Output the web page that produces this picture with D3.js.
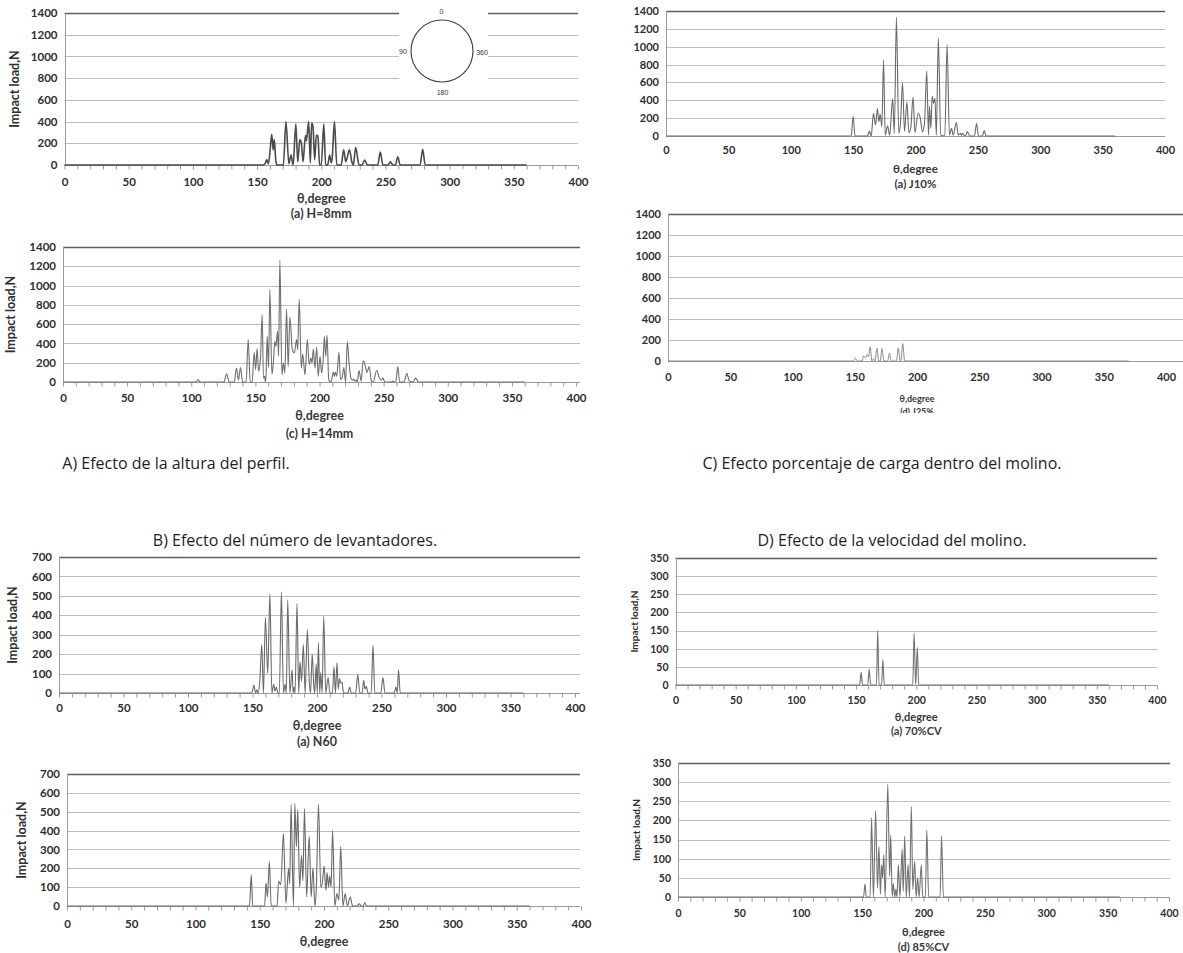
<!DOCTYPE html>
<html>
<head>
<meta charset="utf-8">
<script src="https://cdn.jsdelivr.net/npm/d3@7"></script>
<style>
  body { margin: 0; background: #fff; }
  svg { display: block; }
</style>
</head>
<body>
<svg id="fig" width="1183" height="953"></svg>
<script>
// ---------- Impact load vs. angular position (θ) for each case ----------

// (a) H=8mm
const thetaH8 = [0,154.5,156.2,157.5,158.8,160.1,161.4,162.6,163.4,164.7,165.8,170.5,172.5,174.8,176.5,178.1,180.2,181.7,183.3,184.5,185.8,187.7,188.4,190.2,191.5,192.5,193.5,194.9,196.2,197.4,198.7,200,202,203.4,205,206.5,207.8,208.5,210.3,212.1,215.5,217.5,219,220,222,224,225,226.8,229.5,231.8,233.8,236,244,246,248,252,253.8,255.8,257.8,259.6,261.5,277,279,281,360];
const loadH8  = [0,0,11,50,11,123,282,139,235,30,0,0,400,11,91,0,378,30,235,203,30,271,223,400,20,387,360,50,277,265,0,0,378,0,0,91,20,60,400,0,0,140,30,60,140,20,0,160,0,0,45,0,0,120,0,0,30,0,0,75,0,0,145,0,0];

// (c) H=14mm
const thetaH14 = [0,103.5,105.3,107,125.5,127.5,129.5,133.5,135.3,136.8,138.4,140,142.8,144.4,146,147.5,149.1,150.2,151.4,152.5,154,155.3,156.3,157.2,157.8,158.3,159.2,160.3,161.3,162.9,164,165.2,166,167.3,168.1,169.1,170.7,171.8,173,174.3,175.6,176.9,178.8,180.3,182.2,183,184.2,185.8,186.9,188.7,190.5,192,193.3,194.2,195.2,196.5,197.8,199,200.4,201.6,202.7,203.8,204.8,205.9,207.2,209,210.8,211.6,212.4,213.4,215.2,216.3,217.5,219,220.3,221.7,223,224.5,225.5,226.5,227.5,228.5,229.5,230.8,232.5,234,235.5,237,238.8,240.5,242,244.5,246.5,248,249.5,251,256,257,258,259.5,261,262.5,266,268,270,273,275,277,360];
const loadH14  = [0,0,24,0,0,86,0,0,145,20,149,0,0,439,0,0,308,130,346,110,250,698,40,59,0,59,474,150,958,80,200,422,370,525,266,1262,76,197,93,757,162,674,335,300,439,335,861,145,290,76,439,180,249,200,342,145,363,59,266,93,200,474,266,484,24,0,104,60,104,60,308,30,40,150,0,420,200,40,20,30,10,20,0,120,10,220,180,100,160,10,0,120,50,20,40,0,0,10,0,0,160,0,0,90,10,0,40,0,0];

// (a) J10%
const thetaJ10 = [0,148.5,150,151.5,161.5,163,164.5,166.3,168,169.5,170.6,171.7,173,174.4,175.7,177.6,179.3,181.7,183,184.7,186.6,188,189.6,191.2,193.1,194.7,196.3,198,199.6,202,203.7,205.6,207.2,209,210.4,211.2,212.3,213.4,214.5,215.6,216.7,218.3,220.2,223.5,225.3,227.2,228.9,230.2,232.7,234.3,235.9,236.8,237.5,238.9,240,241.6,243.5,247.3,248.9,250.5,253.6,255.1,256.5,360];
const loadJ10  = [0,0,224,0,0,56,0,254,123,310,160,246,105,851,10,112,10,418,30,1329,30,150,597,50,381,37,105,437,37,254,209,49,142,728,10,336,86,448,366,422,10,1101,10,0,1023,10,86,10,150,10,30,10,30,10,0,49,0,0,142,0,0,60,0,0];

// (d) J25%
const thetaJ25 = [0,149,150.6,152,156,157,158.5,160,161,162.4,163.8,165,166.2,167.8,169.3,170.4,171.9,173.4,176.4,177.9,179.3,183.5,185,186.5,187,188.6,190,370];
const loadJ25  = [0,0,25,0,0,50,30,60,40,135,0,20,0,120,0,0,118,0,0,75,0,0,125,0,0,165,0,0];

// (a) N60
const thetaN60 = [0,149.5,151,152.5,153.4,154.5,155.7,157.2,158.5,160,161.8,163.5,165,166.4,167.5,168.4,169.8,170.8,172.4,174,175.3,176.2,177.3,179,180.7,181.5,182.2,183,184.5,185.8,186.8,188,189.4,190.8,192.5,194,195,196.3,197.5,198.2,199.4,200.2,201.1,202.1,202.9,204,205.2,206.8,208.6,210,212,213.2,214.3,215.5,216.5,217.5,218.5,219.5,220.5,224,225.3,226.6,230,231.6,233.2,235,236.2,237.2,238.2,239.5,242,243.4,244.8,249.5,251.1,252.7,259.8,261.2,262.2,263.2,264.5,360];
const loadN60  = [0,0,40,0,17,0,65,250,0,390,100,510,0,45,10,30,0,0,520,0,45,0,480,0,120,0,30,0,460,0,160,60,250,0,325,60,0,200,40,0,150,0,260,0,105,0,395,0,80,0,0,135,0,155,20,75,50,55,0,0,30,0,0,95,0,0,65,20,35,0,0,245,0,0,80,0,0,30,0,120,0,0];

// second lifter case
const thetaN2 = [0,142,143.4,144.5,153.8,154.9,156,157.5,158.9,163.5,164.7,166.4,168.4,170.4,172.4,173.3,174.4,176.2,177.3,178.5,179.6,181,182.5,183.6,184.8,186.5,188.5,190,191.4,192.9,194,195.7,197.5,198.6,200,201.5,202.4,203.5,204.4,205.5,206.7,208.4,210.1,211.6,213,214.7,216.5,218.2,220.5,222.2,226,227.4,229,230.5,231.7,233.2,360];
const loadN2  = [0,0,165,0,0,122,48,234,0,0,131,114,384,14,200,117,540,0,545,315,510,100,269,134,517,48,371,48,203,0,90,540,100,117,212,83,178,100,160,100,402,0,66,31,315,0,66,0,48,0,0,12,0,0,17,0,0];

// (a) 70%CV
const thetaCV70 = [0,153,154.2,155.4,159.7,160.9,162.1,166.9,168,169.1,171.2,172.3,173.4,197.1,198.2,199.5,200.9,202,360];
const loadCV70  = [0,0,35,0,0,44,0,0,151,0,0,70,0,0,143,0,103,0,0];

// (d) 85%CV
const thetaCV85 = [0,151.2,152.3,153.5,156.5,157.7,159.2,161,162.5,163.7,164.9,165.8,166.7,167.6,168.8,170.9,172.4,173.3,174.5,175.4,176.6,177.5,178.4,179.5,180.8,182.6,183.5,184.7,185.9,187.4,188.6,190.1,191.3,192.8,194,195.2,196.4,198.2,199.4,201.5,202.7,204.2,213.5,214.7,216.2,360];
const loadCV85  = [0,0,34,0,0,207,0,226,24,132,7,84,50,110,0,295,54,162,0,35,0,20,0,84,0,125,15,159,0,84,0,236,20,93,0,50,0,84,0,0,175,0,0,159,0,0];

// Axis tick labels
const xTickLabels   = [0, 50, 100, 150, 200, 250, 300, 350, 400];
const yTicksProfile = [0, 200, 400, 600, 800, 1000, 1200, 1400];
const yTicksLifters = [0, 100, 200, 300, 400, 500, 600, 700];
const yTicksSpeed   = [0, 50, 100, 150, 200, 250, 300, 350];

// Text
const xTitle  = "θ,degree";
const yTitle  = "Impact load,N";
const subtitles = ["(a) H=8mm", "(c) H=14mm", "(a) J10%", "(d) J25%", "(a) N60", "", "(a) 70%CV", "(d) 85%CV"];
const captions = [
  "A) Efecto de la altura del perfil.",
  "C) Efecto porcentaje de carga dentro del molino.",
  "B) Efecto del número de levantadores.",
  "D) Efecto de la velocidad del molino."
];
const insetLabels = ["0", "90", "360", "180"];

// ---------- drawing ----------
const svg = d3.select("#fig");
const defs = svg.append("defs");
defs.append("clipPath").attr("id", "clipJ25")
  .append("rect").attr("x", 600).attr("y", 380).attr("width", 583).attr("height", 33);

const panels = [
  { theta: thetaH8,  load: loadH8,  ticks: yTicksProfile, x0: 64.5, x1: 578,  top: 13,  bot: 165, grid: 578,  labY: 182, titY: 199, subY: 214, yTit: 15,  fs: 11.5, tfs: 12.5, minor: true,  stroke: "#4a4a4a", sw: 1.6, sub: subtitles[0] },
  { theta: thetaH14, load: loadH14, ticks: yTicksProfile, x0: 63,   x1: 576,  top: 247, bot: 382, grid: 580,  labY: 398, titY: 416, subY: 434, yTit: 11,  fs: 11.5, tfs: 12.5, minor: true,  stroke: "#6e6e6e", sw: 1.1, sub: subtitles[1] },
  { theta: thetaJ10, load: loadJ10, ticks: yTicksProfile, x0: 666,  x1: 1165, top: 11,  bot: 136, grid: 1165, labY: 150, titY: 169, subY: 184, yTit: null, fs: 11, tfs: 11.5, minor: false, stroke: "#6a6a6a", sw: 1.1, sub: subtitles[2] },
  { theta: thetaJ25, load: loadJ25, ticks: yTicksProfile, x0: 668,  x1: 1166, top: 214, bot: 361, grid: 1183, labY: 377, titY: 399, subY: 412, yTit: null, fs: 11, tfs: 9,    minor: false, stroke: "#8a8a8a", sw: 1.0, sub: subtitles[3], clip: "url(#clipJ25)" },
  { theta: thetaN60, load: loadN60, ticks: yTicksLifters, x0: 59,   x1: 575,  top: 557, bot: 693, grid: 580,  labY: 708, titY: 726, subY: 742, yTit: 13,  fs: 11.5, tfs: 12.5, minor: true,  stroke: "#6a6a6a", sw: 1.1, sub: subtitles[4] },
  { theta: thetaN2,  load: loadN2,  ticks: yTicksLifters, x0: 67,   x1: 581,  top: 774, bot: 906, grid: 580,  labY: 924, titY: 942, subY: null, yTit: 22, fs: 11.5, tfs: 12.5, minor: true,  stroke: "#6a6a6a", sw: 1.1, sub: subtitles[5] },
  { theta: thetaCV70, load: loadCV70, ticks: yTicksSpeed, x0: 675.5, x1: 1157, top: 558, bot: 685, grid: 1157, labY: 700, titY: 717, subY: 731, yTit: 634, fs: 10.5, tfs: 11, minor: true, stroke: "#727272", sw: 1.1, sub: subtitles[6], yTitFs: 10 },
  { theta: thetaCV85, load: loadCV85, ticks: yTicksSpeed, x0: 678,  x1: 1169, top: 763, bot: 897, grid: 1170, labY: 913, titY: 932, subY: 947, yTit: 636, fs: 10.5, tfs: 11, minor: true, stroke: "#727272", sw: 1.1, sub: subtitles[7], yTitFs: 10 }
];

const crisp = v => Math.round(v) + 0.5;

function drawPanel(p, idx) {
  const g = svg.append("g").attr("class", "panel");
  const x = d3.scaleLinear().domain([0, 400]).range([p.x0, p.x1]);
  const y = d3.scaleLinear().domain([0, p.ticks[p.ticks.length - 1]]).range([p.bot, p.top]);
  const topVal = p.ticks[p.ticks.length - 1];

  // horizontal gridlines (top one drawn darker)
  g.append("g").selectAll("line")
    .data(p.ticks.filter(v => v > 0))
    .join("line")
    .attr("x1", p.x0).attr("x2", p.grid)
    .attr("y1", d => crisp(y(d))).attr("y2", d => crisp(y(d)))
    .attr("stroke", d => d === topVal ? "#5e5e5e" : "#bdbdbd")
    .attr("stroke-width", d => d === topVal ? 1.4 : 1);

  // inset sketch of the mill shell with angle references
  if (idx === 0) {
    g.append("rect").attr("x", 399).attr("y", 0).attr("width", 89).attr("height", 95).attr("fill", "#fff");
    const ins = g.append("g").attr("font-family", "'Liberation Sans', Arial, sans-serif").attr("font-size", 7).attr("fill", "#333").attr("text-anchor", "middle");
    ins.append("circle").attr("cx", 442).attr("cy", 51).attr("r", 31).attr("fill", "none").attr("stroke", "#444").attr("stroke-width", 1.2);
    const pos = [[441.5, 12], [403, 52], [482, 53], [442.5, 93]];
    ins.selectAll("text").data(insetLabels).join("text")
      .attr("x", (d, i) => pos[i][0]).attr("y", (d, i) => pos[i][1])
      .attr("dominant-baseline", "middle").text(d => d);
  }

  // y axis labels
  const yAxis = g.append("g").attr("transform", `translate(${p.x0},0)`)
    .call(d3.axisLeft(y).tickValues(p.ticks).tickSize(0).tickPadding(7).tickFormat(d3.format("d")));
  yAxis.select(".domain").remove();
  yAxis.selectAll("text")
    .attr("font-family", "Lato, 'Open Sans', sans-serif").attr("font-weight", 700)
    .attr("font-size", p.fs).attr("fill", "#2e2e2e");

  // left axis line
  g.append("line").attr("x1", crisp(p.x0)).attr("x2", crisp(p.x0))
    .attr("y1", p.top).attr("y2", p.bot).attr("stroke", "#9a9a9a");

  // x axis with minor ticks every 10°
  const xAxis = g.append("g").attr("transform", `translate(0,${crisp(y(0))})`)
    .call(d3.axisBottom(x).tickValues(d3.range(0, 401, 10))
      .tickSize(p.minor ? 4 : 0).tickSizeOuter(0)
      .tickFormat(d => xTickLabels.includes(d) ? d : ""));
  xAxis.select(".domain").attr("stroke", "#9a9a9a").attr("d", `M${p.x0},0H${p.grid}`);
  xAxis.selectAll(".tick line").attr("stroke", "#9a9a9a");
  xAxis.selectAll("text")
    .attr("y", p.labY - crisp(y(0))).attr("dy", "0.35em")
    .attr("font-family", "Lato, 'Open Sans', sans-serif").attr("font-weight", 700)
    .attr("font-size", p.fs).attr("fill", "#2e2e2e");

  // impact load series
  const line = d3.line()
    .x(d => x(d[0])).y(d => y(d[1]))
    .curve(d3.curveMonotoneX);
  g.append("path")
    .datum(d3.zip(p.theta, p.load))
    .attr("d", line)
    .attr("fill", "none")
    .attr("stroke", p.stroke)
    .attr("stroke-width", p.sw)
    .attr("stroke-linejoin", "round");

  // axis titles
  const cx = (p.x0 + p.x1) / 2;
  const tg = g.append("g").attr("clip-path", p.clip || null)
    .attr("font-family", "Lato, 'Open Sans', sans-serif").attr("fill", "#383838").attr("text-anchor", "middle");
  tg.append("text").attr("x", cx).attr("y", p.titY).attr("dy", "0.35em")
    .attr("font-size", p.tfs).attr("font-weight", 700).text(xTitle);
  if (p.subY !== null && p.sub) {
    tg.append("text").attr("x", cx).attr("y", p.subY).attr("dy", "0.35em")
      .attr("font-size", p.tfs).attr("font-weight", 700).text(p.sub);
  }
  if (p.yTit !== null) {
    g.append("text")
      .attr("transform", `translate(${p.yTit},${(p.top + p.bot) / 2}) rotate(-90)`)
      .attr("text-anchor", "middle").attr("dy", "0.35em")
      .attr("font-family", "Lato, 'Open Sans', sans-serif").attr("font-weight", 700)
      .attr("font-size", p.yTitFs || 12.5).attr("fill", "#2e2e2e")
      .text(yTitle);
  }
}

panels.forEach(drawPanel);

// section captions
const capPos = [[176, 463], [882, 463], [295, 540], [892, 540]];
svg.append("g")
  .attr("font-family", "'Open Sans', 'Noto Sans', sans-serif")
  .attr("font-size", 16).attr("fill", "#1e1e1e").attr("text-anchor", "middle")
  .selectAll("text").data(captions).join("text")
  .attr("x", (d, i) => capPos[i][0]).attr("y", (d, i) => capPos[i][1])
  .attr("dy", "0.35em").text(d => d);
</script>
</body>
</html>
